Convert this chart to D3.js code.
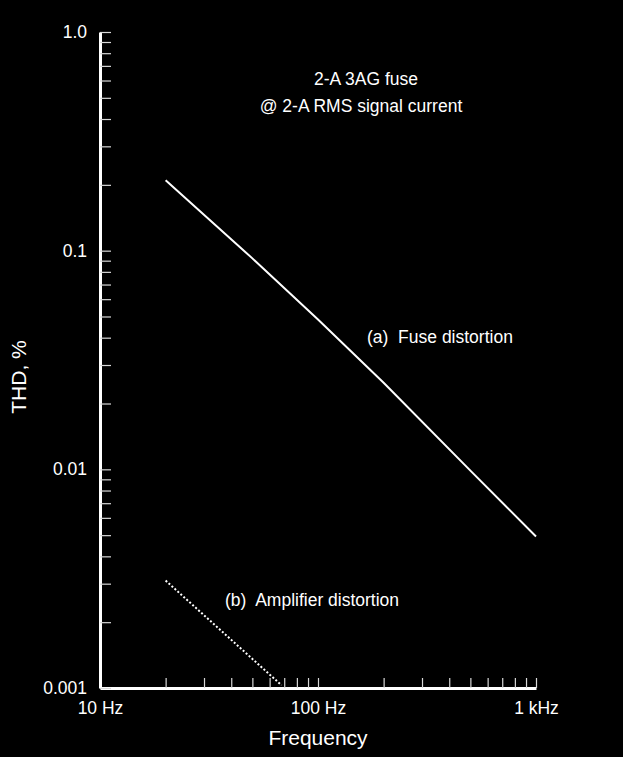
<!DOCTYPE html>
<html>
<head>
<meta charset="utf-8">
<script src="https://cdn.jsdelivr.net/npm/d3@7"></script>
<style>
  html, body { margin: 0; padding: 0; background: #000; }
  svg { display: block; }
  text { font-family: "Liberation Sans", Arial, Helvetica, sans-serif; fill: #fff; }
</style>
</head>
<body>
<svg id="chart" width="623" height="757"></svg>
<script>
// ---- data ----
const fuseFreq = [20, 50, 100, 200, 500, 1000];
const fuseTHD  = [0.21, 0.0922, 0.0484, 0.0249, 0.00986, 0.00493];
const ampFreq  = [20, 68];
const ampTHD   = [0.0031, 0.00103];
const xTickValues = [10, 20, 30, 40, 50, 60, 70, 80, 90, 100, 200, 300, 400, 500, 600, 700, 800, 900, 1000];
const xTickLabels = {10: "10 Hz", 100: "100 Hz", 1000: "1 kHz"};
const yTickValues = [0.001, 0.002, 0.003, 0.004, 0.005, 0.006, 0.007, 0.008, 0.009,
                     0.01, 0.02, 0.03, 0.04, 0.05, 0.06, 0.07, 0.08, 0.09,
                     0.1, 0.2, 0.3, 0.4, 0.5, 0.6, 0.7, 0.8, 0.9, 1];
const yTickLabels = {0.001: "0.001", 0.01: "0.01", 0.1: "0.1", 1: "1.0"};
const titleLines = ["2-A 3AG fuse", "@ 2-A RMS signal current"];
const seriesLabels = ["(a)  Fuse distortion", "(b)  Amplifier distortion"];

// ---- layout ----
const svg = d3.select("#chart");
const x = d3.scaleLog().domain([10, 1000]).range([100, 536]);
const y = d3.scaleLog().domain([0.001, 1]).range([688, 32]);

svg.append("rect").attr("width", 623).attr("height", 757).attr("fill", "#000");

// x axis
const xAxis = d3.axisBottom(x)
  .tickValues(xTickValues)
  .tickSizeInner(-10).tickSizeOuter(0).tickPadding(14)
  .tickFormat(d => xTickLabels[d] || "");
const gx = svg.append("g").attr("transform", "translate(0,688)").call(xAxis);
gx.select(".domain").attr("stroke", "#fff").attr("stroke-width", 3);
gx.selectAll(".tick line").attr("stroke", "#d8d8d8").attr("stroke-width", 1.2);
gx.selectAll(".tick text").attr("fill", "#fff").attr("font-size", 17.5)
  .attr("font-family", "Liberation Sans, Arial, sans-serif");

// y axis
const yAxis = d3.axisLeft(y)
  .tickValues(yTickValues)
  .tickSizeInner(-11).tickSizeOuter(0).tickPadding(13)
  .tickFormat(d => {
    const k = Object.keys(yTickLabels).find(v => Math.abs(+v - d) < 1e-9);
    return k ? yTickLabels[k] : "";
  });
const gy = svg.append("g").attr("transform", "translate(100,0)").call(yAxis);
gy.select(".domain").attr("stroke", "#fff").attr("stroke-width", 3);
gy.selectAll(".tick line").attr("stroke", "#d8d8d8").attr("stroke-width", 1.2);
gy.selectAll(".tick text").attr("fill", "#fff").attr("font-size", 17.5)
  .attr("font-family", "Liberation Sans, Arial, sans-serif");

// lines
const line = d3.line().x(d => x(d[0])).y(d => y(d[1]));
svg.append("path")
  .datum(fuseFreq.map((f, i) => [f, fuseTHD[i]]))
  .attr("d", line)
  .attr("fill", "none").attr("stroke", "#fff").attr("stroke-width", 2)
  .attr("stroke-linejoin", "round");

svg.append("path")
  .datum(ampFreq.map((f, i) => [f, ampTHD[i]]))
  .attr("d", line)
  .attr("fill", "none").attr("stroke", "#fff").attr("stroke-width", 2)
  .attr("stroke-dasharray", "2,2");

// annotations
svg.append("text").attr("x", 366).attr("y", 85).attr("text-anchor", "middle")
  .attr("font-size", 17.5).text(titleLines[0]);
svg.append("text").attr("x", 361).attr("y", 112).attr("text-anchor", "middle")
  .attr("font-size", 17.5).text(titleLines[1]);
svg.append("text").attr("x", 367).attr("y", 343).attr("font-size", 17.5)
  .attr("xml:space", "preserve").style("white-space", "pre").text(seriesLabels[0]);
svg.append("text").attr("x", 225).attr("y", 606).attr("font-size", 17.5)
  .attr("xml:space", "preserve").style("white-space", "pre").text(seriesLabels[1]);

// axis titles
svg.append("text").attr("x", 318).attr("y", 745).attr("text-anchor", "middle")
  .attr("font-size", 21).text("Frequency");
svg.append("text").attr("transform", "translate(26,377) rotate(-90)")
  .attr("text-anchor", "middle").attr("font-size", 21).text("THD, %");
</script>
</body>
</html>
